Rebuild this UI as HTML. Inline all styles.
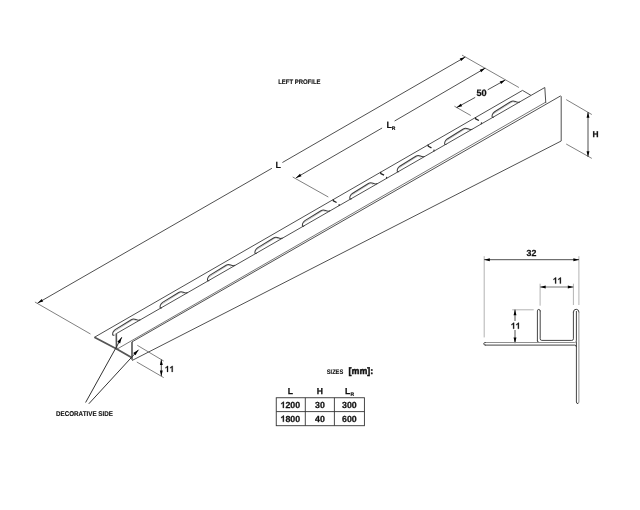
<!DOCTYPE html>
<html><head><meta charset="utf-8"><style>
html,body{margin:0;padding:0;background:#fff;}
svg{display:block;will-change:transform;text-rendering:geometricPrecision;font-family:"Liberation Sans",sans-serif;}
</style></head><body>
<svg width="640" height="510" viewBox="0 0 640 510">
<line x1="94.4" y1="337.3" x2="522.5" y2="90.4" stroke="#3c3c3c" stroke-width="0.9"/>
<line x1="522.5" y1="90.4" x2="530.9" y2="95.3" stroke="#3c3c3c" stroke-width="0.9"/>
<path d="M116.3,333.6 L544.8,87.5 L545.8,103.1" stroke="#3c3c3c" stroke-width="0.9" fill="none" stroke-linejoin="round"/>
<line x1="116.3" y1="333.6" x2="116.5" y2="349.4" stroke="#555" stroke-width="1.6"/>
<line x1="116.5" y1="349.4" x2="545.8" y2="102.1" stroke="#3c3c3c" stroke-width="0.7"/>
<line x1="132" y1="341.9" x2="132" y2="359.8" stroke="#666" stroke-width="1.8"/>
<path d="M132,341.9 L560.6,95.9 L561.2,96.6 L561.2,141 L132,360.5" stroke="#3c3c3c" stroke-width="0.9" fill="none" stroke-linejoin="round"/>
<path d="M94.4,337.3 L116.3,348.8 L132,357.8" stroke="#555" stroke-width="1.8" fill="none" stroke-linejoin="round"/>
<path d="M333.1,199.33 L333.4,200.93 L336.6,202.53" stroke="#222" stroke-width="1.3" fill="none" stroke-linejoin="round"/>
<line x1="339" y1="205.9" x2="339.3" y2="204.1" stroke="#333" stroke-width="1.2"/>
<path d="M380.53,171.98 L380.83,173.58 L384.03,175.18" stroke="#222" stroke-width="1.3" fill="none" stroke-linejoin="round"/>
<line x1="386.43" y1="178.66" x2="386.73" y2="176.86" stroke="#333" stroke-width="1.2"/>
<path d="M427.96,144.62 L428.26,146.22 L431.46,147.82" stroke="#222" stroke-width="1.3" fill="none" stroke-linejoin="round"/>
<line x1="433.86" y1="151.42" x2="434.16" y2="149.62" stroke="#333" stroke-width="1.2"/>
<path d="M475.39,117.27 L475.69,118.87 L478.89,120.47" stroke="#222" stroke-width="1.3" fill="none" stroke-linejoin="round"/>
<line x1="481.29" y1="124.18" x2="481.59" y2="122.38" stroke="#333" stroke-width="1.2"/>
<path d="M114,331.72 L131.3,320.79 Q134.8,318.57 135.8,321.2" stroke="#c4c4c4" stroke-width="0.9" fill="none"/>
<path d="M114.4,335.09 Q111.9,335.93 112.9,332.55 Q113.5,330.91 115.2,329.63 L131.3,319.69 C135.3,317.19 136,321.49 140.3,319.82" stroke="#3c3c3c" stroke-width="1.05" fill="none"/>
<path d="M161.43,304.48 L178.73,293.54 Q182.23,291.33 183.23,293.96" stroke="#c4c4c4" stroke-width="0.9" fill="none"/>
<path d="M161.83,307.85 Q159.33,308.69 160.33,305.31 Q160.93,303.67 162.63,302.39 L178.73,292.44 C182.73,289.95 183.43,294.25 187.73,292.58" stroke="#3c3c3c" stroke-width="1.05" fill="none"/>
<path d="M208.86,277.24 L226.16,266.3 Q229.66,264.09 230.66,266.72" stroke="#c4c4c4" stroke-width="0.9" fill="none"/>
<path d="M209.26,280.61 Q206.76,281.45 207.76,278.07 Q208.36,276.43 210.06,275.15 L226.16,265.2 C230.16,262.71 230.86,267 235.16,265.34" stroke="#3c3c3c" stroke-width="1.05" fill="none"/>
<path d="M256.29,250 L273.59,239.06 Q277.09,236.85 278.09,239.48" stroke="#c4c4c4" stroke-width="0.9" fill="none"/>
<path d="M256.69,253.37 Q254.19,254.21 255.19,250.83 Q255.79,249.19 257.49,247.91 L273.59,237.96 C277.59,235.47 278.29,239.76 282.59,238.09" stroke="#3c3c3c" stroke-width="1.05" fill="none"/>
<path d="M303.72,222.76 L321.02,211.82 Q324.52,209.61 325.52,212.24" stroke="#c4c4c4" stroke-width="0.9" fill="none"/>
<path d="M304.12,226.13 Q301.62,226.97 302.62,223.59 Q303.22,221.95 304.92,220.67 L321.02,210.72 C325.02,208.23 325.72,212.52 330.02,210.85" stroke="#3c3c3c" stroke-width="1.05" fill="none"/>
<path d="M351.15,195.52 L368.45,184.58 Q371.95,182.37 372.95,185" stroke="#c4c4c4" stroke-width="0.9" fill="none"/>
<path d="M351.55,198.89 Q349.05,199.72 350.05,196.35 Q350.65,194.71 352.35,193.43 L368.45,183.48 C372.45,180.99 373.15,185.28 377.45,183.61" stroke="#3c3c3c" stroke-width="1.05" fill="none"/>
<path d="M398.58,168.28 L415.88,157.34 Q419.38,155.13 420.38,157.76" stroke="#c4c4c4" stroke-width="0.9" fill="none"/>
<path d="M398.98,171.65 Q396.48,172.48 397.48,169.11 Q398.08,167.47 399.78,166.19 L415.88,156.24 C419.88,153.75 420.58,158.04 424.88,156.37" stroke="#3c3c3c" stroke-width="1.05" fill="none"/>
<path d="M446.01,141.04 L463.31,130.1 Q466.81,127.89 467.81,130.52" stroke="#c4c4c4" stroke-width="0.9" fill="none"/>
<path d="M446.41,144.41 Q443.91,145.24 444.91,141.87 Q445.51,140.23 447.21,138.95 L463.31,129 C467.31,126.5 468.01,130.8 472.31,129.13" stroke="#3c3c3c" stroke-width="1.05" fill="none"/>
<path d="M493.44,113.8 L510.74,102.86 Q514.24,100.65 515.24,103.28" stroke="#c4c4c4" stroke-width="0.9" fill="none"/>
<path d="M493.84,117.17 Q491.34,118 492.34,114.63 Q492.94,112.98 494.64,111.71 L510.74,101.76 C514.74,99.26 515.44,103.56 519.74,101.89" stroke="#3c3c3c" stroke-width="1.05" fill="none"/>
<line x1="34.9" y1="302" x2="90.5" y2="334" stroke="#555" stroke-width="0.75"/>
<line x1="462" y1="55.1" x2="518.9" y2="87.5" stroke="#555" stroke-width="0.75"/>
<line x1="37.6" y1="303.1" x2="271.9" y2="168.3" stroke="#3c3c3c" stroke-width="0.9"/>
<line x1="282.4" y1="162.5" x2="465.3" y2="57" stroke="#3c3c3c" stroke-width="0.9"/>
<path d="M37.6,303.1 L41.73,299.05 L43.18,301.56 Z" fill="#000"/>
<path d="M465.3,57 L461.17,61.05 L459.72,58.54 Z" fill="#000"/>
<text x="275.5" y="168.2" font-size="9" font-weight="bold" text-anchor="start" fill="#111" stroke="#111" stroke-width="0.1">L</text>
<line x1="292.7" y1="177" x2="328.3" y2="197" stroke="#555" stroke-width="0.75"/>
<line x1="295.9" y1="177.9" x2="382.1" y2="128" stroke="#3c3c3c" stroke-width="0.9"/>
<line x1="394.6" y1="121" x2="485.3" y2="68.1" stroke="#3c3c3c" stroke-width="0.9"/>
<path d="M295.9,177.9 L300.02,173.84 L301.47,176.35 Z" fill="#000"/>
<path d="M485.3,68.1 L481.19,72.17 L479.73,69.67 Z" fill="#000"/>
<text x="386.6" y="127.5" font-size="9" font-weight="bold" text-anchor="start" fill="#111" stroke="#111" stroke-width="0.15">L</text>
<text x="391.8" y="130.2" font-size="5" font-weight="bold" text-anchor="start" fill="#111" stroke="#111" stroke-width="0.15">R</text>
<line x1="454.4" y1="106.2" x2="470.8" y2="115.5" stroke="#555" stroke-width="0.75"/>
<line x1="456.6" y1="107.6" x2="475.2" y2="97.4" stroke="#3c3c3c" stroke-width="0.9"/>
<line x1="487.7" y1="89.8" x2="505.3" y2="80" stroke="#3c3c3c" stroke-width="0.9"/>
<path d="M456.6,107.6 L460.81,103.64 L462.21,106.18 Z" fill="#000"/>
<path d="M505.3,80 L501.11,83.99 L499.7,81.46 Z" fill="#000"/>
<text x="476.5" y="96.1" font-size="9.2" font-weight="bold" text-anchor="start" fill="#111" stroke="#111" stroke-width="0.25">5</text>
<text x="481.62" y="96.1" font-size="9.2" font-weight="bold" text-anchor="start" fill="#111" stroke="#111" stroke-width="0.25">0</text>
<line x1="566.2" y1="99.6" x2="591.8" y2="114.5" stroke="#555" stroke-width="0.75"/>
<line x1="566.2" y1="144" x2="591.8" y2="158.4" stroke="#555" stroke-width="0.75"/>
<line x1="588" y1="112.1" x2="588" y2="156.8" stroke="#3c3c3c" stroke-width="0.9"/>
<path d="M588,112.1 L589.45,117.7 L586.55,117.7 Z" fill="#000"/>
<path d="M588,156.8 L586.55,151.2 L589.45,151.2 Z" fill="#000"/>
<text x="592.6" y="137.3" font-size="8.4" font-weight="bold" text-anchor="start" fill="#111" stroke="#111" stroke-width="0.25">H</text>
<line x1="137.3" y1="345.3" x2="163.7" y2="361" stroke="#555" stroke-width="0.75"/>
<line x1="136.8" y1="362" x2="163.7" y2="377.6" stroke="#555" stroke-width="0.75"/>
<line x1="161.3" y1="359.5" x2="161.3" y2="376.2" stroke="#3c3c3c" stroke-width="0.9"/>
<path d="M161.3,359.5 L162.75,365.1 L159.85,365.1 Z" fill="#000"/>
<path d="M161.3,376.2 L159.85,370.6 L162.75,370.6 Z" fill="#000"/>
<path d="M168.04,371.9 L167.01,371.9 L167.01,367.49 L165.46,368.36 L165.46,367.38 L166.52,366.77 L167.26,365.89 L168.04,365.89 Z" fill="#111" stroke="#111" stroke-width="0.25" stroke-linejoin="round"/>
<path d="M172.71,371.9 L171.69,371.9 L171.69,367.49 L170.13,368.36 L170.13,367.38 L171.19,366.77 L171.93,365.89 L172.71,365.89 Z" fill="#111" stroke="#111" stroke-width="0.25" stroke-linejoin="round"/>
<line x1="85.6" y1="402.5" x2="121.8" y2="337.2" stroke="#333" stroke-width="1.0"/>
<path d="M121.8,337.2 L120.13,343.38 L117.35,341.8 Z" fill="#000"/>
<line x1="88.8" y1="403.8" x2="138.6" y2="349.7" stroke="#333" stroke-width="1.0"/>
<path d="M138.6,349.7 L135.49,355.3 L133.17,353.09 Z" fill="#000"/>
<text x="278.2" y="83.9" font-size="6.7" font-weight="bold" text-anchor="start" fill="#111" textLength="42.3" lengthAdjust="spacingAndGlyphs" stroke="#111" stroke-width="0.12">LEFT PROFILE</text>
<text x="56" y="415.6" font-size="7" font-weight="bold" text-anchor="start" fill="#111" textLength="56.9" lengthAdjust="spacingAndGlyphs" stroke="#111" stroke-width="0.12">DECORATIVE SIDE</text>
<text x="326.8" y="373.8" font-size="6.6" font-weight="bold" text-anchor="start" fill="#111" textLength="16.4" lengthAdjust="spacingAndGlyphs" stroke="#111" stroke-width="0.12">SIZES</text>
<text x="348.6" y="374.4" font-size="9.2" font-weight="bold" text-anchor="start" fill="#111" textLength="24.6" lengthAdjust="spacingAndGlyphs" stroke="#111" stroke-width="0.45">[mm]:</text>
<rect x="276.25" y="397.75" width="88.15" height="27.95" fill="none" stroke="#333" stroke-width="0.9"/>
<line x1="305.3" y1="397.75" x2="305.3" y2="425.7" stroke="#333" stroke-width="0.9"/>
<line x1="334.4" y1="397.75" x2="334.4" y2="425.7" stroke="#333" stroke-width="0.9"/>
<line x1="276.25" y1="411.6" x2="364.4" y2="411.6" stroke="#333" stroke-width="0.9"/>
<text x="290.3" y="394" font-size="8.6" font-weight="bold" text-anchor="middle" fill="#111" stroke="#111" stroke-width="0.25">L</text>
<text x="319.9" y="394" font-size="8.6" font-weight="bold" text-anchor="middle" fill="#111" stroke="#111" stroke-width="0.25">H</text>
<text x="347.5" y="394" font-size="8.6" font-weight="bold" text-anchor="middle" fill="#111" stroke="#111" stroke-width="0.25">L</text>
<text x="350.5" y="396" font-size="5" font-weight="bold" text-anchor="start" fill="#111" stroke="#111" stroke-width="0.15">R</text>
<path d="M283.91,407.95 L282.83,407.95 L282.83,403.33 L281.2,404.25 L281.2,403.22 L282.32,402.58 L283.09,401.65 L283.91,401.65 Z" fill="#111" stroke="#111" stroke-width="0.25" stroke-linejoin="round"/>
<text x="285.41" y="407.95" font-size="8.8" font-weight="bold" text-anchor="start" fill="#111" stroke="#111" stroke-width="0.25">2</text>
<text x="290.3" y="407.95" font-size="8.8" font-weight="bold" text-anchor="start" fill="#111" stroke="#111" stroke-width="0.25">0</text>
<text x="295.19" y="407.95" font-size="8.8" font-weight="bold" text-anchor="start" fill="#111" stroke="#111" stroke-width="0.25">0</text>
<text x="315.01" y="407.95" font-size="8.8" font-weight="bold" text-anchor="start" fill="#111" stroke="#111" stroke-width="0.25">3</text>
<text x="319.9" y="407.95" font-size="8.8" font-weight="bold" text-anchor="start" fill="#111" stroke="#111" stroke-width="0.25">0</text>
<text x="342.06" y="407.95" font-size="8.8" font-weight="bold" text-anchor="start" fill="#111" stroke="#111" stroke-width="0.25">3</text>
<text x="346.95" y="407.95" font-size="8.8" font-weight="bold" text-anchor="start" fill="#111" stroke="#111" stroke-width="0.25">0</text>
<text x="351.85" y="407.95" font-size="8.8" font-weight="bold" text-anchor="start" fill="#111" stroke="#111" stroke-width="0.25">0</text>
<path d="M283.91,421.85 L282.83,421.85 L282.83,417.23 L281.2,418.15 L281.2,417.12 L282.32,416.48 L283.09,415.55 L283.91,415.55 Z" fill="#111" stroke="#111" stroke-width="0.25" stroke-linejoin="round"/>
<text x="285.41" y="421.85" font-size="8.8" font-weight="bold" text-anchor="start" fill="#111" stroke="#111" stroke-width="0.25">8</text>
<text x="290.3" y="421.85" font-size="8.8" font-weight="bold" text-anchor="start" fill="#111" stroke="#111" stroke-width="0.25">0</text>
<text x="295.19" y="421.85" font-size="8.8" font-weight="bold" text-anchor="start" fill="#111" stroke="#111" stroke-width="0.25">0</text>
<text x="315.01" y="421.85" font-size="8.8" font-weight="bold" text-anchor="start" fill="#111" stroke="#111" stroke-width="0.25">4</text>
<text x="319.9" y="421.85" font-size="8.8" font-weight="bold" text-anchor="start" fill="#111" stroke="#111" stroke-width="0.25">0</text>
<text x="342.06" y="421.85" font-size="8.8" font-weight="bold" text-anchor="start" fill="#111" stroke="#111" stroke-width="0.25">6</text>
<text x="346.95" y="421.85" font-size="8.8" font-weight="bold" text-anchor="start" fill="#111" stroke="#111" stroke-width="0.25">0</text>
<text x="351.85" y="421.85" font-size="8.8" font-weight="bold" text-anchor="start" fill="#111" stroke="#111" stroke-width="0.25">0</text>
<line x1="484.2" y1="256.2" x2="484.2" y2="337.4" stroke="#999" stroke-width="0.75"/>
<line x1="578.9" y1="256.2" x2="578.9" y2="305" stroke="#999" stroke-width="0.75"/>
<line x1="484.2" y1="259.7" x2="579" y2="259.7" stroke="#3c3c3c" stroke-width="0.9"/>
<path d="M484.2,259.7 L489.8,258.25 L489.8,261.15 Z" fill="#000"/>
<path d="M579,259.7 L573.4,261.15 L573.4,258.25 Z" fill="#000"/>
<text x="526.61" y="256.3" font-size="8.8" font-weight="bold" text-anchor="start" fill="#111" stroke="#111" stroke-width="0.25">3</text>
<text x="531.5" y="256.3" font-size="8.8" font-weight="bold" text-anchor="start" fill="#111" stroke="#111" stroke-width="0.25">2</text>
<line x1="540.1" y1="283.7" x2="540.1" y2="305.7" stroke="#999" stroke-width="0.75"/>
<line x1="573.4" y1="283.7" x2="573.4" y2="305" stroke="#999" stroke-width="0.75"/>
<line x1="540.1" y1="287" x2="573.4" y2="287" stroke="#777" stroke-width="1.1"/>
<path d="M540.1,287 L545.7,285.55 L545.7,288.45 Z" fill="#000"/>
<path d="M573.4,287 L567.8,288.45 L567.8,285.55 Z" fill="#000"/>
<path d="M556.13,283.6 L555.08,283.6 L555.08,279.08 L553.49,279.98 L553.49,278.98 L554.58,278.35 L555.34,277.44 L556.13,277.44 Z" fill="#111" stroke="#111" stroke-width="0.25" stroke-linejoin="round"/>
<path d="M560.92,283.6 L559.87,283.6 L559.87,279.08 L558.27,279.98 L558.27,278.98 L559.36,278.35 L560.12,277.44 L560.92,277.44 Z" fill="#111" stroke="#111" stroke-width="0.25" stroke-linejoin="round"/>
<line x1="512.2" y1="309.8" x2="533.7" y2="309.8" stroke="#999" stroke-width="0.75"/>
<line x1="515" y1="309.6" x2="515" y2="343.2" stroke="#3c3c3c" stroke-width="0.9"/>
<path d="M515,309.6 L516.45,315.2 L513.55,315.2 Z" fill="#000"/>
<path d="M515,343.2 L513.55,337.6 L516.45,337.6 Z" fill="#000"/>
<rect x="510.5" y="321" width="9" height="9" fill="#fff"/>
<path d="M514.13,328.8 L513.08,328.8 L513.08,324.28 L511.49,325.18 L511.49,324.18 L512.58,323.55 L513.34,322.64 L514.13,322.64 Z" fill="#111" stroke="#111" stroke-width="0.25" stroke-linejoin="round"/>
<path d="M518.92,328.8 L517.87,328.8 L517.87,324.28 L516.27,325.18 L516.27,324.18 L517.36,323.55 L518.12,322.64 L518.92,322.64 Z" fill="#111" stroke="#111" stroke-width="0.25" stroke-linejoin="round"/>
<path d="M537.4,340.9 L537.4,310.9 Q537.4,309.45 538.8,309.45 Q540.2,309.45 540.2,310.9" fill="none" stroke="#3a3a3a" stroke-width="0.95" stroke-linecap="round" stroke-linejoin="round"/>
<path d="M540.2,310.9 L540.2,338.8 Q540.2,340.4 541.8,340.4 L571.8,340.4 Q573.4,340.4 573.4,338.8 L573.4,312" fill="none" stroke="#3a3a3a" stroke-width="0.95" stroke-linecap="round" stroke-linejoin="round"/>
<path d="M537.4,340.9 Q537.4,342.5 539,342.5" fill="none" stroke="#3a3a3a" stroke-width="0.95" stroke-linecap="round" stroke-linejoin="round"/>
<path d="M573.4,312 A2.75,2.75 0 0 1 578.9,312" fill="none" stroke="#3a3a3a" stroke-width="0.95" stroke-linecap="round" stroke-linejoin="round"/>
<path d="M578.9,312 L578.9,402 Q578.9,403.6 577.65,403.6" fill="none" stroke="#8a8a8a" stroke-width="0.95" stroke-linecap="round" stroke-linejoin="round"/>
<path d="M576.4,311.4 L576.4,402 Q576.4,403.6 577.65,403.6" fill="none" stroke="#3a3a3a" stroke-width="0.95" stroke-linecap="round" stroke-linejoin="round"/>
<path d="M485.3,342.5 L574.8,342.5 Q576.4,342.5 576.4,340.9" fill="none" stroke="#8a8a8a" stroke-width="0.95" stroke-linecap="round" stroke-linejoin="round"/>
<path d="M485.3,345.1 L574.8,345.1 Q576.4,345.1 576.4,346.7" fill="none" stroke="#3a3a3a" stroke-width="0.95" stroke-linecap="round" stroke-linejoin="round"/>
<path d="M485.3,342.5 Q483.7,342.5 483.7,343.8 Q483.7,345.1 485.3,345.1" fill="none" stroke="#3a3a3a" stroke-width="0.95" stroke-linecap="round" stroke-linejoin="round"/>
</svg>
</body></html>
